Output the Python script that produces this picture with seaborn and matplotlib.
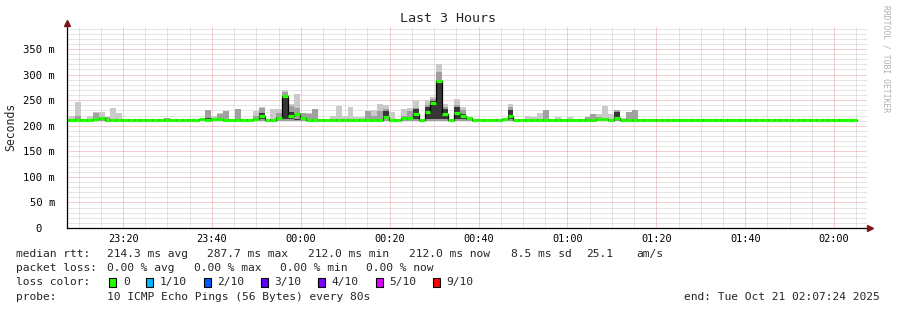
import numpy as np
import pandas as pd
import matplotlib
matplotlib.use("Agg")
import matplotlib.pyplot as plt
from matplotlib.patches import Rectangle
import seaborn as sns

nan = float("nan")

# ---------------- data (ms, one value per 80 s bin) ----------------
median_ms = [
    212, 212, 212, 212, 212, 213, 215, 212, 212, 212,
    212, 212, 212, 212, 212, 212, 212, 212, 212, 212,
    212, 212, 212, 213, 212, 213, 214, 212, 212, 212,
    212, 212, 213, 219, 212, 212, 215, 258, 220, 222,
    216, 212, 212, 212, 212, 212, 212, 212, 212, 212,
    212, 212, 212, 212, 218, 212, 212, 216, 215, 222,
    212, 226, 245, 287.7, 222, 212, 225, 219, 215, 212,
    212, 212, 212, 212, 214, 220, 212, 212, 212, 212,
    212, 212, 212, 212, 212, 212, 212, 212, 212, 212,
    214, 214, 212, 215, 212, 212, 212, 212, 212, 212,
    212, 212, 212, 212, 212, 212, 212, 212, 212, 212,
    212, 212, 212, 212, 212, 212, 212, 212, 212, 212,
    212, 212, 212, 212, 212, 212, 212, 212, 212, 212,
    212, 212, 212, 212, nan, nan,
]
smoke_max_ms = [
    213, 220, 247, 213, 220, 227, 226, 218, 235, 225,
    213, 213, 213, 213, 213, 213, 213, 215, 213, 213,
    213, 213, 214, 214, 230, 220, 225, 228, 213, 232,
    213, 213, 228, 237, 213, 232, 233, 270, 242, 263,
    225, 224, 232, 213, 213, 220, 238, 220, 237, 218,
    218, 228, 231, 242, 240, 227, 213, 232, 235, 248,
    214, 251, 257, 320, 242, 213, 252, 237, 216, 213,
    213, 213, 213, 213, 216, 242, 213, 213, 220, 218,
    224, 230, 213, 217, 213, 217, 213, 213, 217, 223,
    223, 238, 223, 230, 215, 226, 230, 213, 213, 213,
    214, 213, 213, 213, 213, 213, 213, 213, 213, 213,
    213, 213, 213, 213, 213, 213, 213, 213, 213, 213,
    213, 213, 213, 213, 213, 213, 213, 213, 213, 213,
    213, 213, 213, 213, nan, nan,
]
smoke_mid_ms = [
    212, 213, 220, 212, 214, 225, 218, 218, 213, 213,
    212, 212, 212, 212, 212, 212, 212, 215, 212, 212,
    212, 212, 212, 212, 230, 216, 223, 228, 212, 232,
    212, 212, 220, 235, 212, 212, 225, 266, 238, 235,
    224, 222, 232, 212, 212, 212, 212, 212, 212, 212,
    212, 228, 220, 228, 232, 212, 212, 220, 228, 235,
    212, 240, 252, 305, 236, 212, 240, 230, 212, 212,
    212, 212, 212, 212, 212, 236, 212, 212, 212, 212,
    212, 230, 212, 212, 212, 212, 212, 212, 217, 223,
    218, 212, 212, 230, 212, 226, 230, 212, 212, 212,
    212, 212, 212, 212, 212, 212, 212, 212, 212, 212,
    212, 212, 212, 212, 212, 212, 212, 212, 212, 212,
    212, 212, 212, 212, 212, 212, 212, 212, 212, 212,
    212, 212, 212, 212, nan, nan,
]
smoke_dark_ms = [
    212, 212, 212, 212, 212, 212, 212, 212, 212, 212,
    212, 212, 212, 212, 212, 212, 212, 212, 212, 212,
    212, 212, 212, 212, 216, 212, 212, 212, 212, 212,
    212, 212, 212, 224, 212, 212, 218, 257, 226, 212,
    212, 212, 212, 212, 212, 212, 212, 212, 212, 212,
    212, 212, 212, 212, 228, 212, 212, 212, 212, 232,
    212, 236, 249, 284, 232, 212, 236, 222, 212, 212,
    212, 212, 212, 212, 212, 230, 212, 212, 212, 212,
    212, 212, 212, 212, 212, 212, 212, 212, 212, 212,
    212, 212, 212, 226, 212, 212, 212, 212, 212, 212,
    212, 212, 212, 212, 212, 212, 212, 212, 212, 212,
    212, 212, 212, 212, 212, 212, 212, 212, 212, 212,
    212, 212, 212, 212, 212, 212, 212, 212, 212, 212,
    212, 212, 212, 212, nan, nan,
]
smoke_floor_ms = 209.5

time_tick_labels = ["23:20", "23:40", "00:00", "00:20", "00:40",
                    "01:00", "01:20", "01:40", "02:00"]
y_tick_values = [0, 50, 100, 150, 200, 250, 300, 350]
y_tick_labels = ["0  ", "50 m", "100 m", "150 m", "200 m", "250 m", "300 m", "350 m"]

loss_labels = ["0", "1/10", "2/10", "3/10", "4/10", "5/10", "9/10"]
loss_colors = ["#26ff00", "#00b8ff", "#0059ff", "#5e00ff", "#7e00ff", "#dd00ff", "#ff0000"]

median_stats = ["214.3 ms avg", "287.7 ms max", "212.0 ms min", "212.0 ms now",
                "8.5 ms sd", "25.1", "am/s"]
loss_stats = ["0.00 % avg", "0.00 % max", "0.00 % min", "0.00 % now"]
probe_text = "10 ICMP Echo Pings (56 Bytes) every 80s"
end_text = "end: Tue Oct 21 02:07:24 2025"
title_text = "Last 3 Hours"

# ---------------- layout ----------------
W, H = 897, 310
bin_min = 80 / 60.0           # bin width in minutes
first_bin_start = -0.884      # minutes relative to graph start (23:07:24)
first_tick = 12.6             # 23:20 relative to graph start
total_min = 180.0
ymax = 396.0

sns.set_theme(style="white")
plt.rcParams["font.family"] = ["DejaVu Sans Mono", "DejaVu Sans"]
plt.rcParams["axes.linewidth"] = 0.9

fig = plt.figure(figsize=(W / 100, H / 100), dpi=100)
fig.patch.set_facecolor("white")

def fx(px):
    return px / W

def fy(py):
    return 1 - py / H

ax = fig.add_axes([fx(67), fy(228), 800 / W, (228 - 25.5) / H])
ax.set_facecolor("white")

n = len(median_ms)
starts = first_bin_start + bin_min * np.arange(n)
ends = starts + bin_min
edges = np.append(starts, ends[-1])

def stepv(v):
    v = np.asarray(v, dtype=float)
    return np.append(v, v[-1])

# smoke bands
ax.fill_between(edges, smoke_floor_ms, stepv(smoke_max_ms), step="post",
                color="#cacaca", lw=0, zorder=2)
ax.fill_between(edges, smoke_floor_ms + 0.5, stepv(smoke_mid_ms), step="post",
                color="#a0a0a0", lw=0, zorder=3)
ax.fill_between(edges, 213, stepv(smoke_dark_ms), step="post",
                color="#363636", lw=0, zorder=4)

# median: black step line + green loss-coloured bars
med = np.asarray(median_ms, dtype=float)
valid = ~np.isnan(med)
last = np.where(valid)[0][-1]
df = pd.DataFrame({"t": np.append(starts[valid], ends[last]),
                   "median": np.append(med[valid], med[last])})
sns.lineplot(data=df, x="t", y="median", drawstyle="steps-post",
             color="black", lw=0.9, ax=ax, zorder=5)
ax.hlines(med[valid], starts[valid], ends[valid], color=loss_colors[0],
          lw=2.3, zorder=6)

# axes
ax.set_xlim(0, total_min)
ax.set_ylim(0, ymax)
major_x = first_tick + 20 * np.arange(len(time_tick_labels))
minor_x = np.arange(first_tick - 10, total_min, 5)
ax.set_xticks(major_x)
ax.set_xticklabels(time_tick_labels)
ax.set_xticks(minor_x, minor=True)
ax.set_yticks(y_tick_values)
ax.set_yticklabels(y_tick_labels)
ax.set_yticks(np.arange(0, ymax, 10), minor=True)
ax.set_xlabel("")
ax.set_ylabel("")

dot = (0, (1, 1))
ax.grid(which="minor", color="#8f8f8f", alpha=0.45, lw=0.72, linestyle=dot)
ax.grid(which="major", color="#de5050", alpha=0.55, lw=0.72, linestyle=dot)
ax.set_axisbelow(True)

for s in ["top", "right"]:
    ax.spines[s].set_visible(False)
for s in ["left", "bottom"]:
    ax.spines[s].set_color("black")
    ax.spines[s].set_linewidth(0.9)
    ax.spines[s].set_zorder(7)

ax.tick_params(axis="both", which="both", colors="black", labelsize=7.4,
               direction="inout")
ax.tick_params(axis="y", which="major", length=3, width=0.7, pad=7)
ax.tick_params(axis="y", which="minor", length=0)
ax.tick_params(axis="x", which="major", length=3, width=0.7, pad=3)
ax.tick_params(axis="x", which="minor", length=2, width=0.7)
for lab in ax.get_yticklabels():
    lab.set_fontsize(7.6)

# arrows
ax.plot([0], [1.012], marker="^", color="#7f1616", ms=4, transform=ax.transAxes,
        clip_on=False, zorder=8)
ax.plot([1.004], [0], marker=">", color="#7f1616", ms=4, transform=ax.transAxes,
        clip_on=False, zorder=8)

# title and labels
fig.text(fx(448), fy(19), title_text, ha="center", va="center", fontsize=9.6)
fig.text(fx(11), fy(127), "Seconds", ha="center", va="center", rotation=90,
         fontsize=8.3)
fig.text(fx(886), fy(59), "RRDTOOL / TOBI OETIKER", ha="center", va="center",
         rotation=270, fontsize=5.8, color="#b0b0b0")

# legend text
fs = 8.15
row_y = [254.3, 268.3, 282.3, 296.7]
fig.text(fx(16), fy(row_y[0]), "median rtt:", va="center", fontsize=fs)
for txt, x in zip(median_stats, [107.3, 207.3, 307.7, 408.5, 510.5, 586.0, 636.0]):
    fig.text(fx(x), fy(row_y[0]), txt, va="center", fontsize=fs)
fig.text(fx(16), fy(row_y[1]), "packet loss:", va="center", fontsize=fs)
for txt, x in zip(loss_stats, [107.3, 193.7, 280.0, 366.3]):
    fig.text(fx(x), fy(row_y[1]), txt, va="center", fontsize=fs)
fig.text(fx(16), fy(row_y[2]), "loss color:", va="center", fontsize=fs)
box_x = [109.3, 146.3, 203.5, 260.7, 318.0, 375.5, 433.0]
for lab, col, bx in zip(loss_labels, loss_colors, box_x):
    fig.patches.append(Rectangle((fx(bx), fy(row_y[2] + 4.5)), 7 / W, 9 / H,
                                 transform=fig.transFigure, facecolor=col,
                                 edgecolor="black", lw=0.8))
    fig.text(fx(bx + 13.5), fy(row_y[2]), lab, va="center", fontsize=fs)
fig.text(fx(16), fy(row_y[3]), "probe:", va="center", fontsize=fs)
fig.text(fx(107.3), fy(row_y[3]), probe_text, va="center", fontsize=fs)
fig.text(fx(880), fy(row_y[3]), end_text, va="center", ha="right", fontsize=fs)

fig.savefig("out.png", dpi=100, facecolor="white")
